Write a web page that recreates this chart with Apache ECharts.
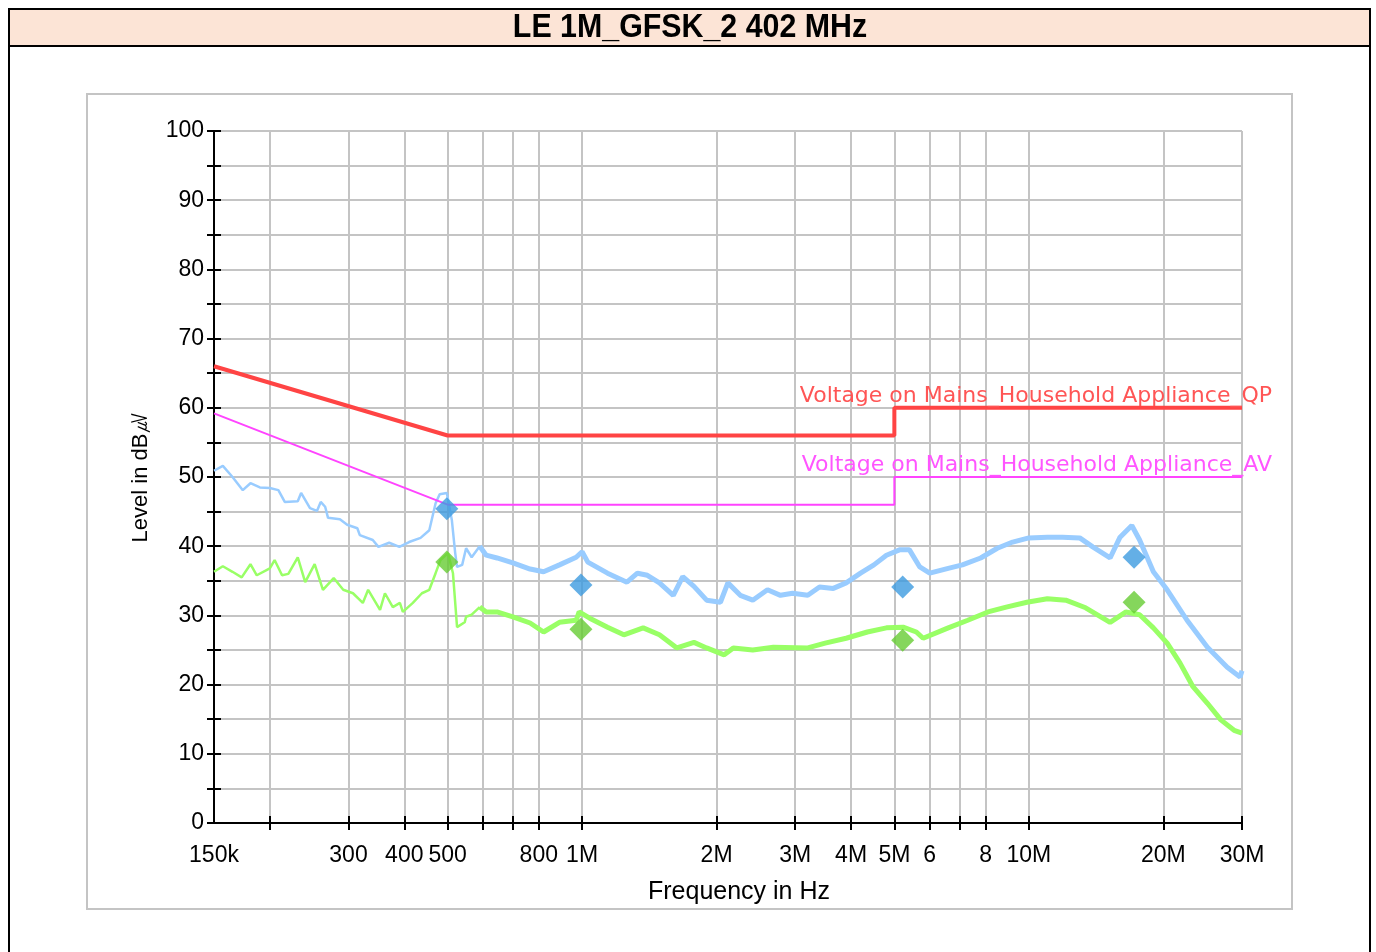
<!DOCTYPE html>
<html><head><meta charset="utf-8">
<script src="https://cdn.jsdelivr.net/npm/echarts@6/dist/echarts.min.js"></script>
<style>html,body{margin:0;padding:0;background:#fff;}#c{width:1376px;height:952px;}</style>
</head><body><div id="c"></div>
<script>
const chartTitle = 'LE 1M_GFSK_2 402 MHz';
const xTickValues = [200000,300000,400000,500000,600000,700000,800000,1000000,2000000,3000000,4000000,5000000,6000000,7000000,8000000,10000000,20000000,30000000];
const xLabelValues = [150000,300000,400000,500000,800000,1000000,2000000,3000000,4000000,5000000,6000000,8000000,10000000,20000000,30000000];
const xLabelTexts  = ['150k','300','400','500','800','1M','2M','3M','4M','5M','6','8','10M','20M','30M'];

const qpLimitFreq  = [150000, 500000, 5000000, 5000000, 30000000];
const qpLimitLevel = [66, 56, 56, 60, 60];
const avLimitFreq  = [150000, 500000, 5000000, 5000000, 30000000];
const avLimitLevel = [59.2, 46, 46, 50, 50];
const qpLimitName = 'Voltage on Mains_Household Appliance_QP';
const avLimitName = 'Voltage on Mains_Household Appliance_AV';

// peak trace (kHz, dBuV)
const peakFreqK = [150,157,165,174,181,190,200,209,216,231,235,246,255,260,266,270,287,298,314,318,340,350,370,390,410,435,455,470,480,498,511,520,525,539,550,566,590,610,645,700,765,820,890,970,1000,1030,1140,1260,1330,1400,1490,1600,1680,1780,1900,2040,2120,2260,2410,2600,2780,2960,3200,3400,3650,3900,4200,4500,4800,5150,5400,5700,6000,6600,7100,7800,8500,9200,10000,11000,11900,13000,13900,15200,16000,17000,17700,19000,20400,22600,25100,27800,29700,30000];
const peakLevel = [50.9,51.6,50.0,48.1,49.1,48.5,48.4,48.1,46.4,46.5,47.7,45.5,45.1,46.4,45.7,44.1,43.9,43.1,42.6,41.6,40.9,39.9,40.5,39.9,40.6,41.2,42.3,46.2,47.5,47.7,43.8,39.0,37.0,37.3,39.7,38.4,40.0,38.7,38.3,37.6,36.7,36.3,37.3,38.4,39.2,37.7,36.1,34.8,36.1,35.8,34.7,32.9,35.6,34.2,32.2,31.9,34.7,32.9,32.2,33.7,32.9,33.2,32.9,34.1,33.9,34.7,36.1,37.3,38.7,39.5,39.5,37.0,36.1,36.8,37.3,38.3,39.7,40.6,41.2,41.3,41.3,41.2,39.9,38.3,41.3,43.0,40.9,36.3,33.7,29.3,25.4,22.5,21.1,22.0];

// average trace (kHz, dBuV)
const avgFreqK = [150,157,165,173,181,187,200,205,213,220,231,240,252,263,278,292,307,323,332,353,362,377,391,397,418,438,455,470,482,501,514,525,546,550,566,590,610,645,700,765,820,890,970,985,1040,1140,1240,1370,1490,1630,1780,1900,2080,2180,2410,2680,3200,3500,3900,4350,4800,5230,5600,5800,6600,7300,8100,8900,9900,11000,12100,13400,15200,16500,17700,19000,20400,21800,23300,25100,26900,28800,30000];
const avgLevel = [36.3,37.1,36.3,35.5,37.4,35.8,36.8,38.0,35.8,36.0,38.4,34.8,37.4,33.7,35.4,33.7,33.2,31.8,33.7,30.8,33.2,31.2,31.8,30.5,31.8,33.2,33.7,36.1,38.0,39.0,36.1,28.3,29.0,29.8,30.1,31.2,30.5,30.5,29.8,28.9,27.6,29.0,29.3,30.5,29.6,28.3,27.2,28.2,27.2,25.3,26.1,25.3,24.3,25.3,25.0,25.4,25.3,26.0,26.7,27.6,28.2,28.3,27.6,26.7,28.2,29.3,30.5,31.2,31.9,32.4,32.2,31.1,29.0,30.5,30.1,28.2,26.0,23.1,19.7,17.3,14.9,13.4,13.0];

// final measurement markers
const markFreqK   = [498, 994, 5220, 17200];
const qpMarkLevel = [45.4, 34.4, 34.1, 38.4];
const avMarkLevel = [37.7, 28.0, 26.4, 31.9];

// the scan is drawn thinner below this frequency (sparse part) and thicker above (dense, noisy part)
const denseFromK = 600;

const FONT = 'Liberation Sans, Arial, sans-serif';
const pairs = (f, v, k) => f.map((x, i) => [x * k, v[i]]);
const lowPart = (f, v) => pairs(f, v, 1000).filter(p => p[0] <= denseFromK * 1000);
const highPart = (f, v) => { const a = pairs(f, v, 1000); const i = a.findIndex(p => p[0] >= denseFromK * 1000); return a.slice(Math.max(0, i - 1)); };
function xLabel(v) {
  let best = 0, bd = Infinity;
  xLabelValues.forEach((t, i) => { const d = Math.abs(Math.log(v / t)); if (d < bd) { bd = d; best = i; } });
  return bd < 0.01 ? xLabelTexts[best] : '';
}

const chart = echarts.init(document.getElementById('c'), null, {renderer: 'canvas'});
const xBase = { type: 'log', logBase: 10, min: 150000, max: 30000000, gridIndex: 0, position: 'bottom' };
const yBase = { type: 'value', min: 0, max: 100, interval: 5, gridIndex: 0, position: 'left' };
const limitLabel = (text, color) => ({ show: true, formatter: text, align: 'right', verticalAlign: 'middle', offset: [30, -12], distance: 0, color: color, fontSize: 22, fontFamily: 'DejaVu Sans, sans-serif' });
chart.setOption({
  animation: false,
  backgroundColor: '#fff',
  grid: { left: 214, right: 134, top: 131, bottom: 129, containLabel: false },
  graphic: [
    { type: 'rect', shape: { x: 9, y: 9, width: 1361, height: 960 }, style: { fill: 'none', stroke: '#000', lineWidth: 2 }, z: -10, silent: true },
    { type: 'rect', shape: { x: 9, y: 9, width: 1361, height: 37 }, style: { fill: '#fce4d6', stroke: '#000', lineWidth: 2 }, z: -9, silent: true },
    { type: 'text', x: 690, y: 28, scaleX: 0.92, style: { text: chartTitle, fill: '#000', font: 'bold 33px ' + FONT, align: 'center', verticalAlign: 'middle' }, z: 5 },
    { type: 'rect', shape: { x: 87, y: 94, width: 1205, height: 815 }, style: { fill: 'none', stroke: '#c4c4c4', lineWidth: 2 }, z: -8, silent: true }
  ],
  xAxis: [
    Object.assign({}, xBase, {
      axisLine: { show: true, onZero: false, lineStyle: { color: '#000', width: 2 } },
      axisTick: { show: true, customValues: xTickValues, length: 7, lineStyle: { color: '#000', width: 2 } },
      axisLabel: { show: true, customValues: xLabelValues, formatter: xLabel, margin: 21, fontSize: 23, color: '#000', fontFamily: FONT, hideOverlap: false },
      splitLine: { show: true, lineStyle: { color: '#c4c4c4', width: 2 } },
      minorTick: { show: false }, minorSplitLine: { show: false },
      name: 'Frequency in Hz', nameLocation: 'middle', nameGap: 57,
      nameTextStyle: { fontSize: 25, color: '#000', fontFamily: FONT, padding: [0, 0, 0, 22] }
    }),
    Object.assign({}, xBase, {
      axisLine: { show: false, onZero: false },
      axisTick: { show: true, inside: true, customValues: xTickValues, length: 7, lineStyle: { color: '#000', width: 2 } },
      axisLabel: { show: false }, splitLine: { show: false }
    })
  ],
  yAxis: [
    Object.assign({}, yBase, {
      axisLine: { show: true, onZero: false, lineStyle: { color: '#000', width: 2 } },
      axisTick: { show: true, length: 7, lineStyle: { color: '#000', width: 2 } },
      axisLabel: { formatter: v => (v % 10 === 0 ? String(v) : ''), margin: 10, fontSize: 23, color: '#000', fontFamily: FONT },
      splitLine: { show: true, lineStyle: { color: '#c4c4c4', width: 2 } },
      name: 'Level in dB\u33B6', nameLocation: 'middle', nameGap: 62, nameRotate: 90,
      nameTextStyle: { fontSize: 22, color: '#000', fontFamily: FONT }
    }),
    Object.assign({}, yBase, {
      axisLine: { show: false, onZero: false },
      axisTick: { show: true, inside: true, length: 7, lineStyle: { color: '#000', width: 2 } },
      axisLabel: { show: false }, splitLine: { show: false }
    })
  ],
  series: [
    { name: 'avg', type: 'line', data: lowPart(avgFreqK, avgLevel), symbol: 'none', lineStyle: { color: '#99ff66', width: 2.5 }, z: 3 },
    { name: 'avg ', type: 'line', data: highPart(avgFreqK, avgLevel), symbol: 'none', lineStyle: { color: '#99ff66', width: 5 }, z: 3 },
    { name: 'peak', type: 'line', data: lowPart(peakFreqK, peakLevel), symbol: 'none', lineStyle: { color: '#99ccff', width: 2.5 }, z: 3 },
    { name: 'peak ', type: 'line', data: highPart(peakFreqK, peakLevel), symbol: 'none', lineStyle: { color: '#99ccff', width: 5 }, z: 3 },
    { name: avLimitName, type: 'line', data: pairs(avLimitFreq, avLimitLevel, 1), symbol: 'none', lineStyle: { color: '#ff44ff', width: 2 }, z: 4,
      endLabel: limitLabel(avLimitName, '#ff55ff') },
    { name: qpLimitName, type: 'line', data: pairs(qpLimitFreq, qpLimitLevel, 1), symbol: 'none', lineStyle: { color: '#ff4444', width: 4 }, z: 4,
      endLabel: limitLabel(qpLimitName, '#ff5555') },
    { name: 'QP', type: 'scatter', data: pairs(markFreqK, qpMarkLevel, 1000), symbol: 'diamond', symbolSize: 23, itemStyle: { color: '#3d9be0' }, z: 6 },
    { name: 'AV', type: 'scatter', data: pairs(markFreqK, avMarkLevel, 1000), symbol: 'diamond', symbolSize: 23, itemStyle: { color: '#66cc33' }, z: 6 }
  ]
});
</script></body></html>
